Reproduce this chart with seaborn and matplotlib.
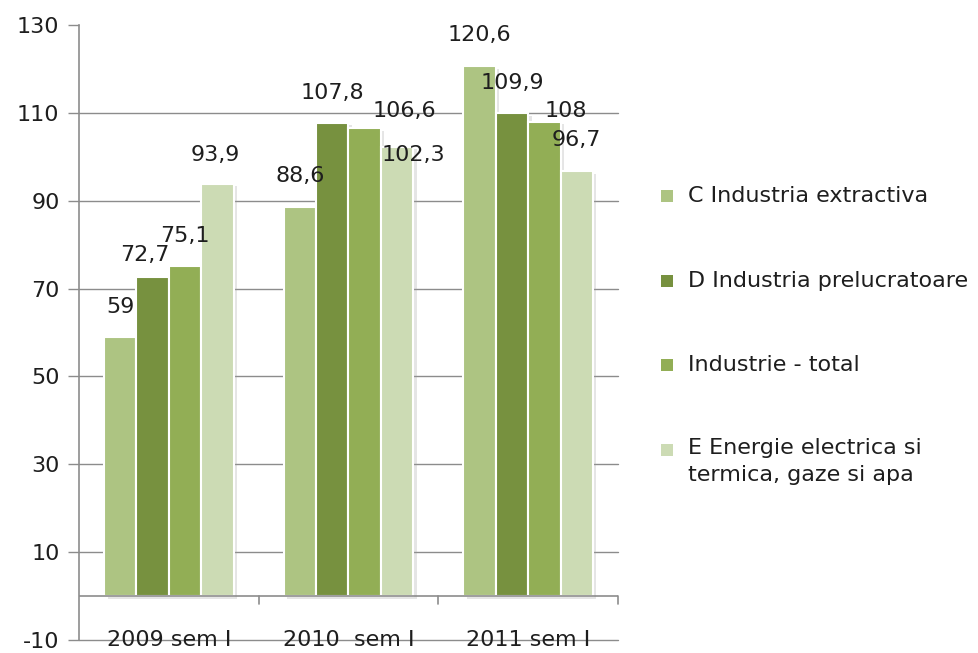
import matplotlib
matplotlib.use("Agg")
import matplotlib.pyplot as plt
import matplotlib.patheffects as pe
from matplotlib.patches import Rectangle
import seaborn as sns
import pandas as pd

# ---- data ----
categories = ["2009 sem I", "2010  sem I", "2011 sem I"]
series = ["C Industria extractiva", "D Industria prelucratoare",
          "Industrie - total", "E Energie electrica si\ntermica, gaze si apa"]
c_extractiva = [59, 88.6, 120.6]
d_prelucratoare = [72.7, 107.8, 109.9]
industrie_total = [75.1, 106.6, 108]
e_energie = [93.9, 102.3, 96.7]
value_labels = [["59", "88,6", "120,6"], ["72,7", "107,8", "109,9"],
                ["75,1", "106,6", "108"], ["93,9", "102,3", "96,7"]]
y_ticks = [-10, 10, 30, 50, 70, 90, 110, 130]

colors = ["#adc482", "#77913f", "#92ae55", "#ccdbb4"]

rows = []
for s, vals in zip(series, [c_extractiva, d_prelucratoare, industrie_total, e_energie]):
    for c, v in zip(categories, vals):
        rows.append({"cat": c, "series": s, "value": v})
df = pd.DataFrame(rows)

sns.set_theme(style="white")
plt.rcParams["font.family"] = ["DejaVu Sans"]
FS = 16
TXT = "#1e1e1e"
GRID = "#8c8c8c"

W, H = 979, 653
fig = plt.figure(figsize=(W / 100, H / 100), dpi=100)
ax = fig.add_axes([79 / W, (H - 640) / H, (618 - 79) / W, (640 - 25) / H])

sns.barplot(data=df, x="cat", y="value", hue="series", order=categories,
            hue_order=series, palette=colors, width=0.72, dodge=True,
            edgecolor="white", linewidth=1.5, saturation=1, legend=False, ax=ax,
            err_kws={"linewidth": 0}, zorder=2)

shadow = [pe.SimplePatchShadow(offset=(2.5, -2), shadow_rgbFace="#999999", alpha=0.25), pe.Normal()]
for p in ax.patches:
    p.set_path_effects(shadow)

ax.set_xlim(-0.5, 2.5)
ax.set_ylim(-10, 130)
ax.set_yticks(y_ticks)
ax.set_yticklabels([str(t) for t in y_ticks], fontsize=FS, color=TXT)
ax.set_xticks([])
ax.set_xlabel("")
ax.set_ylabel("")
ax.tick_params(axis="y", direction="out", length=8, width=1, color=GRID, pad=6, left=True)

for t in y_ticks[:-1]:
    ax.axhline(t, color=GRID, linewidth=1, zorder=0, clip_on=False)
ax.axhline(0, color=GRID, linewidth=1.2, zorder=3)
for xb in [0.5, 1.5, 2.5]:
    ax.plot([xb, xb], [0, -1.8], color=GRID, linewidth=1.2, clip_on=False, zorder=3)

for side in ["top", "right", "bottom"]:
    ax.spines[side].set_visible(False)
ax.spines["left"].set_color(GRID)
ax.spines["left"].set_linewidth(1.2)

for i, c in enumerate(categories):
    ax.text(i, -7.8, c, ha="center", va="top", fontsize=FS, color=TXT)

# value labels: offsets in pixels (dx, dy) relative to bar top
offsets_px = [[(0, 30), (0, 31), (0, 31)],
              [(-8, 22), (0, 30), (0, 30)],
              [(0, 30), (40, 17), (21, 11)],
              [(-2, 29), (16, -8), (0, 31)]]
bars = ax.patches
n_cat = len(categories)
for si in range(len(series)):
    for ci in range(n_cat):
        b = bars[si * n_cat + ci]
        x = b.get_x() + b.get_width() / 2
        y = b.get_height()
        dx, dy = offsets_px[si][ci]
        ax.annotate(value_labels[si][ci], (x, y), xytext=(dx * 0.72, dy * 0.72),
                    textcoords="offset points", ha="center", va="center",
                    fontsize=FS, color=TXT, annotation_clip=False, zorder=5)

# legend drawn manually
leg_y = [196, 281, 365, 450]
for lab, col, yy in zip(series, colors, leg_y):
    fig.add_artist(Rectangle((661 / W, (H - yy - 6) / H), 12 / W, 12 / H,
                             transform=fig.transFigure, facecolor=col, edgecolor="none"))
    if "\n" in lab:
        fig.text(688 / W, (H - yy + 12) / H, lab, ha="left", va="top",
                 fontsize=FS, color=TXT, linespacing=1.45)
    else:
        fig.text(688 / W, (H - yy) / H, lab, ha="left", va="center",
                 fontsize=FS, color=TXT)

fig.savefig("out.png", dpi=100, facecolor="white")
